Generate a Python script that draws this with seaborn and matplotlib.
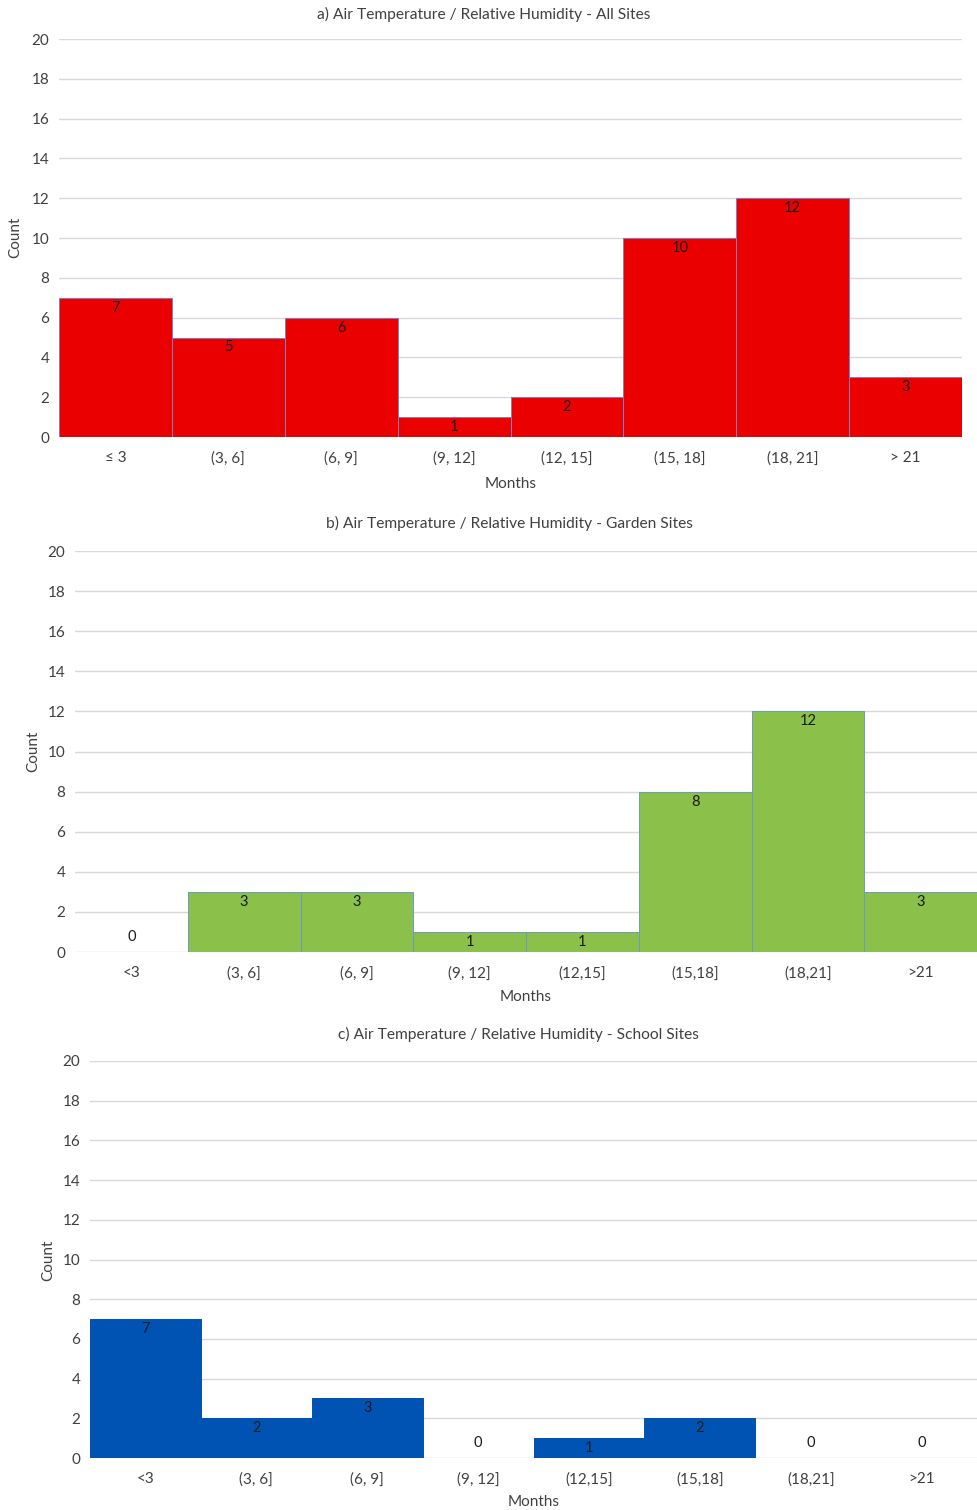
import matplotlib
matplotlib.use("Agg")
import matplotlib.pyplot as plt
import seaborn as sns
import pandas as pd

sns.set_theme(style="white")
plt.rcParams['font.family'] = ['Lato', 'DejaVu Sans']

# ---- data ----
cats_a = ["≤ 3", "(3, 6]", "(6, 9]", "(9, 12]", "(12, 15]", "(15, 18]", "(18, 21]", "> 21"]
vals_a = [7, 5, 6, 1, 2, 10, 12, 3]
cats_b = ["<3", "(3, 6]", "(6, 9]", "(9, 12]", "(12,15]", "(15,18]", "(18,21]", ">21"]
vals_b = [0, 3, 3, 1, 1, 8, 12, 3]
cats_c = ["<3", "(3, 6]", "(6, 9]", "(9, 12]", "(12,15]", "(15,18]", "(18,21]", ">21"]
vals_c = [7, 2, 3, 0, 1, 2, 0, 0]
yticks = [0, 2, 4, 6, 8, 10, 12, 14, 16, 18, 20]

titles = ["a) Air Temperature / Relative Humidity - All Sites",
          "b) Air Temperature / Relative Humidity - Garden Sites",
          "c) Air Temperature / Relative Humidity - School Sites"]
colors = ["#EB0000", "#8BC04A", "#0053B3"]
edges = ["#7F7FC8", "#6A9BC8", "#0053B3"]

W, H = 977, 1510
fig = plt.figure(figsize=(W / 100, H / 100), dpi=100)

# axes pixel boxes: left, right, top, bottom
boxes = [(59, 962, 39, 437), (75, 977, 551, 952), (90, 977, 1061, 1458)]
title_pos = [(484, 14), (509, 523), (518, 1034)]
ylab_pos = [(15, 237), (33, 751), (48, 1260)]
xlab_y = [484, 997, 1502]

datasets = [(cats_a, vals_a), (cats_b, vals_b), (cats_c, vals_c)]
txtcol = "#404040"

for i, (cats, vals) in enumerate(datasets):
    l, r, t, b = boxes[i]
    ax = fig.add_axes([l / W, 1 - b / H, (r - l) / W, (b - t) / H])
    df = pd.DataFrame({"cat": cats, "val": vals})
    sns.barplot(data=df, x="cat", y="val", order=cats, width=1.0,
                color=colors[i], saturation=1, edgecolor=edges[i],
                linewidth=0.7, ax=ax, zorder=3)
    ax.set_xlim(-0.5, len(cats) - 0.5)
    ax.set_ylim(0, 20)
    ax.set_yticks(yticks)
    ax.yaxis.grid(True, color="#D9D9D9", linewidth=1.0, zorder=0)
    ax.set_axisbelow(True)
    for s in ax.spines.values():
        s.set_visible(False)
    ax.tick_params(axis="both", length=0, labelsize=11, colors=txtcol)
    ax.tick_params(axis="x", pad=10)
    ax.tick_params(axis="y", pad=7)
    ax.set_ylabel("")
    ax.set_xlabel("")
    for j, v in enumerate(vals):
        yy = v - 0.5 if v > 0 else 0.75
        ax.text(j, yy, str(v), ha="center", va="center", fontsize=10.5,
                color="#1a1a1a", zorder=5)
    fig.text(title_pos[i][0] / W, 1 - title_pos[i][1] / H, titles[i],
             ha="center", va="center", fontsize=11.2, color=txtcol)
    fig.text(ylab_pos[i][0] / W, 1 - ylab_pos[i][1] / H, "Count",
             ha="center", va="center", rotation=90, fontsize=11, color=txtcol)
    fig.text(((l + r) / 2) / W, 1 - xlab_y[i] / H, "Months",
             ha="center", va="center", fontsize=11, color=txtcol)

fig.savefig("out.png", dpi=100)
